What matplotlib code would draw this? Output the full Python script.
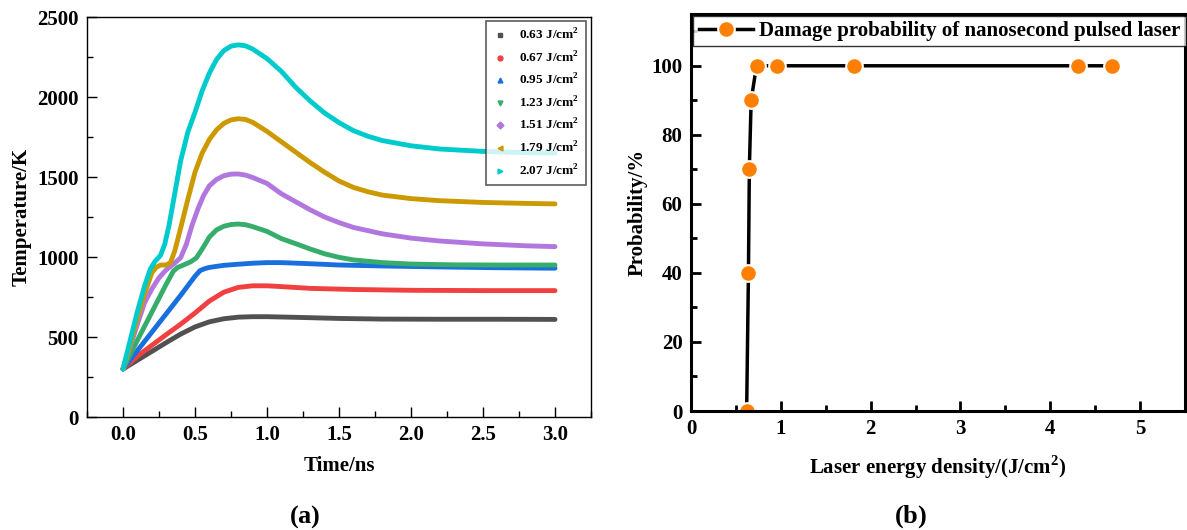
import matplotlib
matplotlib.use("Agg")
import matplotlib.pyplot as plt
from matplotlib.lines import Line2D
from matplotlib.ticker import MultipleLocator, FormatStrFormatter

plt.rcParams['font.family'] = ['Liberation Serif', 'DejaVu Serif']
plt.rcParams['font.weight'] = 'bold'
plt.rcParams['axes.labelweight'] = 'bold'
plt.rcParams['mathtext.fontset'] = 'custom'
plt.rcParams['mathtext.rm'] = 'Liberation Serif'
plt.rcParams['mathtext.bf'] = 'Liberation Serif:bold'

# ---- panel (a): temperature vs time, one series per fluence ----
fluence_labels = ['0.63', '0.67', '0.95', '1.23', '1.51', '1.79', '2.07']
colors = ['#515151', '#F14040', '#1A6FDF', '#37AD6B', '#B177DE', '#CC9900', '#00CBCC']
markers = ['s', 'o', '^', 'v', 'D', '<', '>']

t_063 = [0, 0.1, 0.2, 0.3, 0.4, 0.5, 0.6, 0.7, 0.8, 0.9, 1.0, 1.2, 1.5, 1.8, 2.2, 2.6, 3.0]
T_063 = [300, 355, 410, 465, 518, 563, 595, 614, 624, 627, 627, 623, 616, 612, 611, 611, 610]

t_067 = [0, 0.1, 0.2, 0.3, 0.4, 0.5, 0.6, 0.7, 0.8, 0.9, 1.0, 1.1, 1.3, 1.6, 2.0, 2.5, 3.0]
T_067 = [300, 380, 448, 515, 580, 650, 725, 780, 810, 820, 820, 815, 804, 797, 792, 790, 790]

t_095 = [0, 0.1, 0.2, 0.3, 0.4, 0.5, 0.535, 0.57, 0.6, 0.7, 0.8, 0.9, 1.0, 1.1, 1.3, 1.5,
         1.8, 2.2, 2.6, 3.0]
T_095 = [300, 415, 530, 645, 760, 880, 915, 928, 935, 948, 955, 961, 965, 965, 958, 950,
         944, 938, 933, 930]

t_123 = [0, 0.1, 0.2, 0.3, 0.35, 0.38, 0.42, 0.47, 0.51, 0.55, 0.6, 0.65, 0.7, 0.75, 0.8,
         0.85, 0.9, 1.0, 1.1, 1.2, 1.3, 1.4, 1.5, 1.6, 1.8, 2.0, 2.3, 2.6, 3.0]
T_123 = [300, 480, 655, 830, 912, 935, 950, 970, 995, 1050, 1125, 1170, 1192, 1203, 1206,
         1202, 1190, 1160, 1115, 1083, 1050, 1020, 998, 982, 965, 956, 951, 950, 950]

t_151 = [0, 0.05, 0.1, 0.15, 0.2, 0.25, 0.3, 0.35, 0.4, 0.44, 0.48, 0.52, 0.56, 0.6, 0.65,
         0.7, 0.75, 0.8, 0.85, 0.9, 1.0, 1.1, 1.2, 1.3, 1.4, 1.5, 1.6, 1.8, 2.0, 2.2, 2.5,
         2.8, 3.0]
T_151 = [300, 440, 580, 715, 800, 870, 920, 955, 995, 1080, 1200, 1300, 1385, 1445, 1485,
         1508, 1518, 1519, 1512, 1497, 1460, 1395, 1345, 1295, 1250, 1215, 1185, 1145, 1118,
         1100, 1082, 1070, 1065]

t_179 = [0, 0.05, 0.1, 0.15, 0.2, 0.23, 0.26, 0.3, 0.33, 0.36, 0.4, 0.45, 0.5, 0.55, 0.6,
         0.65, 0.7, 0.75, 0.8, 0.85, 0.9, 1.0, 1.1, 1.2, 1.3, 1.4, 1.5, 1.6, 1.7, 1.8, 2.0,
         2.2, 2.5, 2.8, 3.0]
T_179 = [300, 450, 620, 770, 900, 935, 950, 950, 965, 1040, 1180, 1360, 1530, 1650, 1735,
         1795, 1835, 1857, 1864, 1860, 1842, 1785, 1720, 1655, 1590, 1530, 1475, 1435, 1408,
         1387, 1365, 1352, 1341, 1335, 1332]

t_207 = [0, 0.05, 0.1, 0.15, 0.19, 0.22, 0.26, 0.29, 0.32, 0.36, 0.4, 0.45, 0.5, 0.55, 0.6,
         0.65, 0.7, 0.75, 0.8, 0.85, 0.9, 1.0, 1.1, 1.2, 1.3, 1.4, 1.5, 1.6, 1.7, 1.8, 2.0,
         2.2, 2.5, 2.8, 3.0]
T_207 = [300, 480, 660, 820, 925, 970, 1010, 1080, 1200, 1400, 1600, 1780, 1905, 2040, 2150,
         2235, 2290, 2318, 2326, 2320, 2300, 2240, 2160, 2060, 1975, 1900, 1840, 1790, 1755,
         1728, 1695, 1675, 1660, 1652, 1650]

times = [t_063, t_067, t_095, t_123, t_151, t_179, t_207]
temps = [T_063, T_067, T_095, T_123, T_151, T_179, T_207]

# ---- panel (b): damage probability vs fluence ----
energy_density = [0.62, 0.64, 0.65, 0.67, 0.73, 0.96, 1.82, 4.31, 4.69]
probability = [0, 40, 70, 90, 100, 100, 100, 100, 100]

fig = plt.figure(figsize=(11.87, 5.30), dpi=100)

# panel (a)
ax1 = fig.add_axes([0.0733, 0.2132, 0.4246, 0.7547])
for t, T, c in zip(times, temps, colors):
    ax1.plot(t, T, color=c, lw=3.5, solid_capstyle='round', solid_joinstyle='round')
ax1.set_xlim(-0.25, 3.25)
ax1.set_ylim(0, 2500)
ax1.xaxis.set_major_locator(MultipleLocator(0.5))
ax1.xaxis.set_minor_locator(MultipleLocator(0.25))
ax1.yaxis.set_major_locator(MultipleLocator(500))
ax1.yaxis.set_minor_locator(MultipleLocator(250))
ax1.xaxis.set_major_formatter(FormatStrFormatter('%.1f'))
ax1.tick_params(which='major', direction='in', length=7, width=1, labelsize=15, pad=6)
ax1.tick_params(which='minor', direction='in', length=4, width=1)
for s in ax1.spines.values():
    s.set_linewidth(1.0)
ax1.set_xlabel('Time/ns', fontsize=15, labelpad=8)
ax1.set_ylabel('Temperature/K', fontsize=15, labelpad=4)

handles = [Line2D([], [], color=c, marker=m, linestyle='none', markersize=3.5)
           for c, m in zip(colors, markers)]
labels = [f + r' J/cm$^{\mathbf{2}}$' for f in fluence_labels]
leg1 = ax1.legend(handles, labels, loc='upper right', bbox_to_anchor=(0.997, 1.0),
                  borderaxespad=0.3, fontsize=9.5, frameon=True, fancybox=False,
                  edgecolor='#333333', handlelength=1.2, handletextpad=0.8,
                  labelspacing=0.55, borderpad=0.5)
leg1.get_frame().set_linewidth(1.2)

# panel (b)
ax2 = fig.add_axes([0.5821, 0.2245, 0.4162, 0.7491])
ax2.plot(energy_density, probability, color='black', lw=2.5, marker='o',
         markersize=12, markerfacecolor='#FF8000', markeredgecolor='white',
         markeredgewidth=1.5, label='Damage probability of nanosecond pulsed laser')
ax2.set_xlim(0, 5.5)
ax2.set_ylim(0, 115)
ax2.xaxis.set_major_locator(MultipleLocator(1))
ax2.xaxis.set_minor_locator(MultipleLocator(0.5))
ax2.yaxis.set_major_locator(MultipleLocator(20))
ax2.yaxis.set_minor_locator(MultipleLocator(10))
ax2.tick_params(which='major', direction='in', length=7, width=2, labelsize=15, pad=6)
ax2.tick_params(which='minor', direction='in', length=4, width=2)
for s in ax2.spines.values():
    s.set_linewidth(2.2)
ax2.set_xlabel(r'Laser energy density/(J/cm$^{\mathbf{2}}$)', fontsize=15, labelpad=10)
ax2.set_ylabel('Probability/%', fontsize=15, labelpad=3)
leg2 = ax2.legend(loc='upper left', bbox_to_anchor=(0.005, 0.995), borderaxespad=0,
                  fontsize=15, frameon=True, fancybox=False, edgecolor='black',
                  handlelength=2.6, handletextpad=0.3, borderpad=0.25)
leg2.get_frame().set_linewidth(1.0)

# subfigure captions
fig.text(0.257, 0.0, r'$\mathrm{(}\mathbf{a}\mathrm{)}$', ha='center', va='bottom', fontsize=19)
fig.text(0.767, 0.0, r'$\mathrm{(}\mathbf{b}\mathrm{)}$', ha='center', va='bottom', fontsize=19)

fig.savefig('out.png', dpi=100)
